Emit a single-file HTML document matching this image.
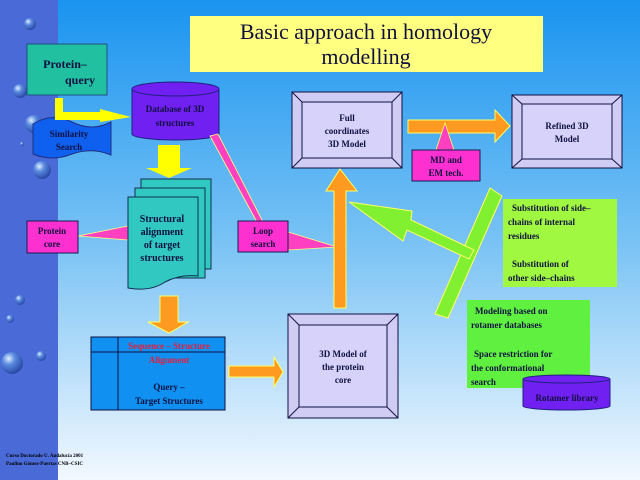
<!DOCTYPE html>
<html><head><meta charset="utf-8"><style>
html,body{margin:0;padding:0;width:640px;height:480px;overflow:hidden}
svg{display:block}
text{font-family:"Liberation Serif",serif;font-weight:bold;fill:#101040}
</style></head><body>
<svg width="640" height="480" viewBox="0 0 640 480" xmlns="http://www.w3.org/2000/svg">
<defs>
<linearGradient id="bg" x1="0" y1="0" x2="0" y2="1">
<stop offset="0" stop-color="#1a94f0"/><stop offset="0.5" stop-color="#78c2f4"/><stop offset="1" stop-color="#f2f8ff"/>
</linearGradient>
<radialGradient id="bub" cx="0.35" cy="0.3" r="0.7">
<stop offset="0" stop-color="#e0f0ff"/><stop offset="0.4" stop-color="#5a8ae0"/><stop offset="1" stop-color="#2a4aa8"/>
</radialGradient>
</defs>
<rect width="640" height="480" fill="url(#bg)"/>
<rect width="58" height="480" fill="#4a6ad8"/>
<g fill="url(#bub)">
<circle cx="30" cy="24" r="6"/><circle cx="20" cy="91" r="7"/><circle cx="34" cy="124" r="9"/><circle cx="22" cy="144" r="2"/><circle cx="42" cy="170" r="9"/><circle cx="20" cy="300" r="5"/><circle cx="10" cy="319" r="4"/><circle cx="12" cy="363" r="11"/><circle cx="41" cy="356" r="5"/>
</g>
<rect x="190" y="16" width="353" height="56" fill="#ffff80"/>
<text x="366" y="39" font-size="22" text-anchor="middle" style="font-weight:normal" fill="#000">Basic approach in homology</text>
<text x="366" y="64" font-size="22" text-anchor="middle" style="font-weight:normal" fill="#000">modelling</text>
<rect x="27" y="44" width="80" height="51" fill="#20c0a0" stroke="#205080"/>
<text x="65" y="68" font-size="12" text-anchor="middle" fill="#102070">Protein–</text>
<text x="80" y="84" font-size="12" text-anchor="middle" fill="#102070">query</text>
<path d="M33,124 Q52,112 72,122 Q92,132 111,122 L111,155 Q92,147 72,154 Q52,162 33,154 Z" fill="#1060f0" stroke="#203080"/>
<text x="69" y="137" font-size="9" text-anchor="middle">Similarity</text>
<text x="69" y="150" font-size="9" text-anchor="middle">Search</text>
<path d="M55,98 L63,98 L63,112 L100,112 L100,109 L131,117 L100,122 L100,120 L55,120 Z" fill="#ffff00"/>
<rect x="132" y="89" width="87" height="45" fill="#7020f0"/>
<ellipse cx="175.5" cy="134" rx="43.5" ry="6" fill="#7020f0" stroke="#202080"/>
<rect x="132" y="89" width="87" height="45" fill="#7020f0"/>
<line x1="132" y1="89" x2="132" y2="134" stroke="#202080"/><line x1="219" y1="89" x2="219" y2="134" stroke="#202080"/>
<ellipse cx="175.5" cy="89" rx="43.5" ry="7" fill="#7020f0" stroke="#202080"/>
<text x="175" y="112" font-size="9" text-anchor="middle">Database of 3D</text>
<text x="175" y="126" font-size="9" text-anchor="middle">structures</text>
<polygon points="210,136 218,134 264,224 258,224" fill="#ff40c0" stroke="#ffff80" stroke-width="0.8"/>
<polygon points="78,236 128,226 128,240" fill="#ff40c0" stroke="#ffff80" stroke-width="0.8"/>
<polygon points="288,232 337,247 288,250" fill="#ff40c0" stroke="#ffff80" stroke-width="0.8"/>
<polygon points="158,145 180,145 180,168 192,168 169,178 146,168 158,168" fill="#ffff00"/>
<rect x="141" y="179" width="70" height="90" fill="#30c8c0" stroke="#103050"/>
<rect x="135" y="188" width="70" height="90" fill="#30c8c0" stroke="#103050"/>
<path d="M128,197 L198,197 L198,276 Q180,274 165,282 Q150,292 128,288 Z" fill="#30c8c0" stroke="#103050"/>
<text x="162" y="222" font-size="10" text-anchor="middle">Structural</text>
<text x="162" y="235" font-size="10" text-anchor="middle">alignment</text>
<text x="162" y="248" font-size="10" text-anchor="middle">of target</text>
<text x="162" y="261" font-size="10" text-anchor="middle">structures</text>
<rect x="27" y="221" width="51" height="32" fill="#ff30d0" stroke="#102050"/>
<text x="52" y="234" font-size="9" text-anchor="middle">Protein</text>
<text x="52" y="247" font-size="9" text-anchor="middle">core</text>
<rect x="238" y="221" width="50" height="31" fill="#ff30d0" stroke="#102050"/>
<text x="263" y="234" font-size="9" text-anchor="middle">Loop</text>
<text x="263" y="247" font-size="9" text-anchor="middle">search</text>
<polygon points="160,296 178,296 178,322 188,322 169,333 148,322 160,322" fill="#ff9a20" stroke="#ffff60"/>
<rect x="91" y="337" width="134" height="73" fill="#1090f0" stroke="#101040"/>
<line x1="118" y1="337" x2="118" y2="410" stroke="#101040"/><line x1="91" y1="352" x2="225" y2="352" stroke="#101040"/>
<text x="169" y="349" font-size="9" text-anchor="middle" style="fill:#e02040">Sequence  – Structure</text>
<text x="169" y="363" font-size="9" text-anchor="middle" style="fill:#e02040">Alignment</text>
<text x="169" y="390" font-size="9" text-anchor="middle">Query –</text>
<text x="169" y="404" font-size="9" text-anchor="middle">Target  Structures</text>
<polygon points="229,366 274,366 274,357 283,372 274,387 274,377 229,377" fill="#ff9a20" stroke="#ffff60"/>
<g stroke="#101040" fill="#d0ccf4">
<rect x="292" y="92" width="110" height="76"/><rect x="302" y="102" width="90" height="56" fill="#d6d2fa"/>
<line x1="292" y1="92" x2="302" y2="102"/><line x1="402" y1="92" x2="392" y2="102"/><line x1="292" y1="168" x2="302" y2="158"/><line x1="402" y1="168" x2="392" y2="158"/>
<rect x="512" y="95" width="110" height="73"/><rect x="522" y="104" width="90" height="55" fill="#d6d2fa"/>
<line x1="512" y1="95" x2="522" y2="104"/><line x1="622" y1="95" x2="612" y2="104"/><line x1="512" y1="168" x2="522" y2="159"/><line x1="622" y1="168" x2="612" y2="159"/>
<rect x="288" y="314" width="110" height="104"/><rect x="299" y="325" width="88" height="82" fill="#d6d2fa"/>
<line x1="288" y1="314" x2="299" y2="325"/><line x1="398" y1="314" x2="387" y2="325"/><line x1="288" y1="418" x2="299" y2="407"/><line x1="398" y1="418" x2="387" y2="407"/>
</g>
<text x="347" y="121" font-size="9" text-anchor="middle">Full</text>
<text x="347" y="134" font-size="9" text-anchor="middle">coordinates</text>
<text x="347" y="147" font-size="9" text-anchor="middle">3D Model</text>
<text x="567" y="129" font-size="9" text-anchor="middle">Refined 3D</text>
<text x="567" y="142" font-size="9" text-anchor="middle">Model</text>
<text x="343" y="357" font-size="9" text-anchor="middle">3D Model of</text>
<text x="343" y="370" font-size="9" text-anchor="middle">the protein</text>
<text x="343" y="383" font-size="9" text-anchor="middle">core</text>
<polygon points="408,120 495,120 495,110 510,126 495,142 495,133 408,133" fill="#ff9a20" stroke="#ffff60"/>
<polygon points="436,150 445,123 454,150" fill="#ff40c0" stroke="#ffff60" stroke-width="0.8"/>
<rect x="412" y="150" width="68" height="31" fill="#ff30d0" stroke="#102050"/>
<text x="446" y="163" font-size="9" text-anchor="middle">MD and</text>
<text x="446" y="176" font-size="9" text-anchor="middle">EM tech.</text>
<polygon points="334,308 346,308 346,191 357,191 340,169 326,191 334,191" fill="#ff9a20" stroke="#ffff60"/>
<polygon points="490,188 502,196 448,318 435,314" fill="#80f030" stroke="#ffff60"/>
<polygon points="474,250 469,259 407,230 403,241 349,202 412,211 411,220" fill="#80f030" stroke="#ffff60"/>
<rect x="503" y="199" width="114" height="88" fill="#a0f840"/>
<text x="512" y="211" font-size="9">Substitution of side–</text>
<text x="508" y="225" font-size="9">chains of internal</text>
<text x="508" y="239" font-size="9">residues</text>
<text x="512" y="267" font-size="9">Substitution of</text>
<text x="508" y="281" font-size="9">other side–chains</text>
<rect x="467" y="300" width="123" height="88" fill="#60f040"/>
<text x="475" y="314" font-size="9">Modeling based on</text>
<text x="471" y="328" font-size="9">rotamer databases</text>
<text x="474" y="357" font-size="9">Space restriction for</text>
<text x="471" y="371" font-size="9">the conformational</text>
<text x="471" y="385" font-size="9">search</text>
<rect x="523" y="379" width="87" height="27" fill="#7020f0"/>
<ellipse cx="566.5" cy="406" rx="43.5" ry="4" fill="#7020f0" stroke="#202080"/>
<rect x="523" y="379" width="87" height="27" fill="#7020f0"/>
<line x1="523" y1="379" x2="523" y2="406" stroke="#202080"/><line x1="610" y1="379" x2="610" y2="406" stroke="#202080"/>
<ellipse cx="566.5" cy="379" rx="43.5" ry="4" fill="#7020f0" stroke="#202080"/>
<text x="567" y="401" font-size="9" text-anchor="middle">Rotamer library</text>
<text x="6" y="457" font-size="5" style="fill:#000">Curso Doctorado U. Andalucía 2001</text>
<text x="6" y="465" font-size="5" style="fill:#000">Paulino Gómez-Puertas CNB–CSIC</text>
</svg>
</body></html>
